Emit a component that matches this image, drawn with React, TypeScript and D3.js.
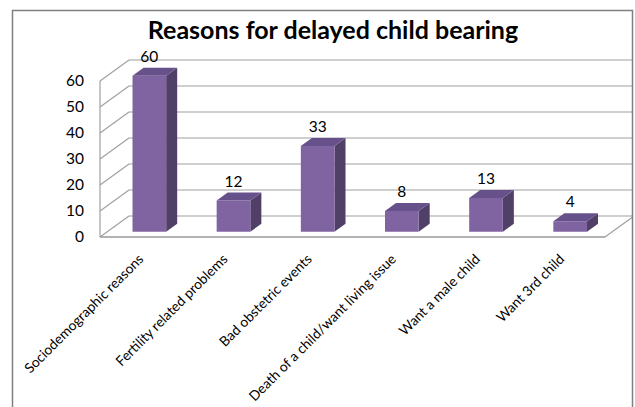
import * as d3 from 'd3'

const categories = [
  'Sociodemographic reasons',
  'Fertility related problems',
  'Bad obstetric events',
  'Death of a child/want living issue',
  'Want a male child',
  'Want 3rd child',
]
const values = [60, 12, 33, 8, 13, 4]
const yTicks = [0, 10, 20, 30, 40, 50, 60]

const W = 635
const H = 407
const FONT = 'Lato, "Open Sans", sans-serif'

// oblique projection of the 3d box
const FRONT_X0 = 100
const FRONT_X1 = 605
const FRONT_Y0 = 237
const DEPTH_DX = 29
const DEPTH_DY = -21
const BAR_F0 = 0.25
const BAR_F1 = 0.63

const FRONT = '#8064A2'
const TOP = '#66518A'
const SIDE = '#504068'
const GRID = '#A0A0A0'

export default function App() {
  const x = d3.scaleBand<string>()
    .domain(categories)
    .range([FRONT_X0, FRONT_X1])
    .paddingInner(0.6)
    .paddingOuter(0.3)

  const h = d3.scaleLinear().domain([0, 60]).range([0, 156])

  // project (px, value, depth fraction) into screen space
  const px = (sx: number, f: number) => sx + DEPTH_DX * f
  const py = (v: number, f: number) => FRONT_Y0 - h(v) + DEPTH_DY * f

  const pts = (arr: [number, number][]) => arr.map(p => p.join(',')).join(' ')

  return (
    <svg width={W} height={H} style={{ position: 'absolute', left: 0, top: 0, background: '#fff' }}>
      <defs>
        <clipPath id="plotclip">
          <rect x={13} y={11} width={619} height={400} />
        </clipPath>
      </defs>
      <rect x={0} y={0} width={W} height={H} fill="#fff" />

      <text x={333} y={39} textAnchor="middle" fontFamily={FONT} fontWeight={700}
        fontSize={25} fill="#000">Reasons for delayed child bearing</text>

      <g clipPath="url(#plotclip)">
        {/* back wall + side wall gridlines */}
        {yTicks.map(t => (
          <g key={t}>
            <line x1={px(FRONT_X0, 1)} x2={px(FRONT_X1, 1)} y1={py(t, 1)} y2={py(t, 1)}
              stroke={GRID} strokeWidth={1.2} />
            <line x1={FRONT_X0} x2={px(FRONT_X0, 1)} y1={py(t, 0)} y2={py(t, 1)}
              stroke={GRID} strokeWidth={1.2} />
          </g>
        ))}
        <line x1={FRONT_X0} x2={FRONT_X0} y1={py(0, 0)} y2={py(60, 0)} stroke={GRID} strokeWidth={1.2} />
        {/* floor */}
        <line x1={FRONT_X0} x2={FRONT_X1} y1={py(0, 0)} y2={py(0, 0)} stroke="#999" strokeWidth={1.5} />
        <line x1={FRONT_X1} x2={px(FRONT_X1, 1)} y1={py(0, 0)} y2={py(0, 1)} stroke={GRID} strokeWidth={1.2} />

        {/* bars */}
        {categories.map((c, i) => {
          const v = values[i]
          const x0 = x(c)!
          const x1 = x0 + x.bandwidth()
          const front: [number, number][] = [
            [px(x0, BAR_F0), py(0, BAR_F0)], [px(x1, BAR_F0), py(0, BAR_F0)],
            [px(x1, BAR_F0), py(v, BAR_F0)], [px(x0, BAR_F0), py(v, BAR_F0)],
          ]
          const side: [number, number][] = [
            [px(x1, BAR_F0), py(0, BAR_F0)], [px(x1, BAR_F1), py(0, BAR_F1)],
            [px(x1, BAR_F1), py(v, BAR_F1)], [px(x1, BAR_F0), py(v, BAR_F0)],
          ]
          const top: [number, number][] = [
            [px(x0, BAR_F0), py(v, BAR_F0)], [px(x1, BAR_F0), py(v, BAR_F0)],
            [px(x1, BAR_F1), py(v, BAR_F1)], [px(x0, BAR_F1), py(v, BAR_F1)],
          ]
          return (
            <g key={c}>
              <polygon points={pts(side)} fill={SIDE} />
              <polygon points={pts(front)} fill={FRONT} />
              <polygon points={pts(top)} fill={TOP} />
              <text x={px((x0 + x1) / 2, BAR_F0)} y={py(v, BAR_F1) - 6} textAnchor="middle"
                fontFamily={FONT} fontSize={15.5} fill="#000">{v}</text>
            </g>
          )
        })}
      </g>

      {/* y tick labels */}
      {yTicks.map(t => (
        <text key={t} x={84} y={py(t, 0)} dy="0.35em" textAnchor="end"
          fontFamily={FONT} fontSize={15.5} fill="#000">{t}</text>
      ))}

      {/* category labels */}
      {categories.map(c => {
        const cx = px(x(c)! + x.bandwidth() / 2, BAR_F0)
        return (
          <text key={c} transform={`translate(${cx - 5},${260}) rotate(-45)`} textAnchor="end"
            fontFamily={FONT} fontSize={13.8} fill="#000">{c}</text>
        )
      })}

      {/* chart border */}
      <rect x={12.5} y={10.5} width={620} height={420} fill="none" stroke="#7F7F7F" strokeWidth={1.5} />
    </svg>
  )
}
